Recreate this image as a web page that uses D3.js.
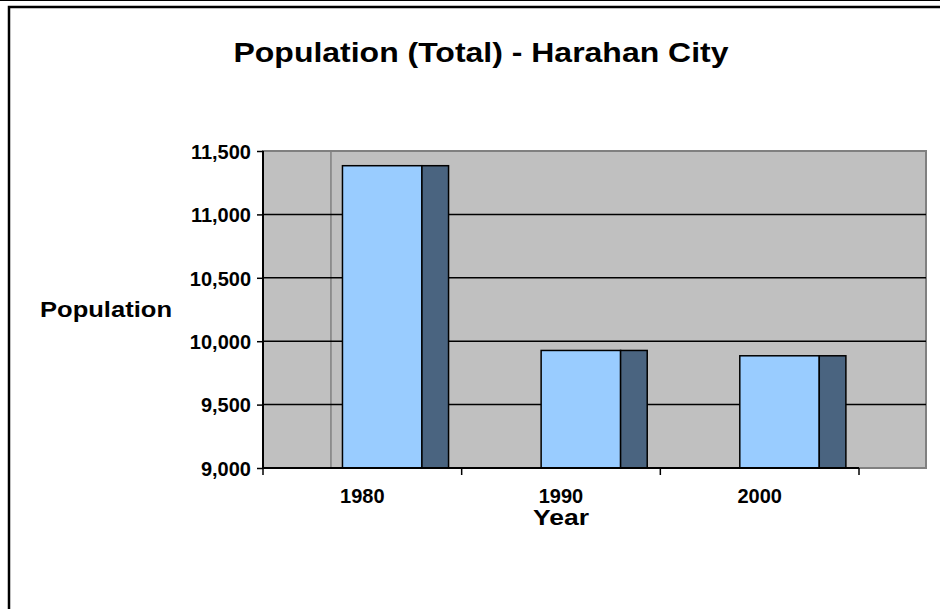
<!DOCTYPE html>
<html>
<head>
<meta charset="utf-8">
<script src="https://cdn.jsdelivr.net/npm/d3@7"></script>
<style>
  body { margin: 0; background: #fff; }
  text { font-family: "Liberation Sans", Arial, sans-serif; font-weight: bold; fill: #000; }
</style>
</head>
<body>
<script>
var years = ["1980", "1990", "2000"];
var population = [11384, 9927, 9885];
var yTicks = [9000, 9500, 10000, 10500, 11000, 11500];

var width = 940;
var height = 609;
var plotLeft = 263, plotRight = 926, plotTop = 151, plotBottom = 468;
var axisRight = 859;

var svg = d3.select("body")
  .append("svg")
  .attr("width", width)
  .attr("height", height);

// chart frame
svg.append("line")
  .attr("x1", 0).attr("x2", width)
  .attr("y1", 0.5).attr("y2", 0.5)
  .attr("stroke", "#000").attr("stroke-width", 1);
svg.append("rect")
  .attr("x", 9).attr("y", 7)
  .attr("width", 960).attr("height", 640)
  .attr("fill", "#fff")
  .attr("stroke", "#000").attr("stroke-width", 2.5);

var x = d3.scaleBand()
  .domain(years)
  .range([plotLeft, axisRight])
  .paddingInner(0)
  .paddingOuter(0);

var y = d3.scaleLinear()
  .domain([9000, 11500])
  .range([plotBottom, plotTop]);

var bw = x.bandwidth();

// plot area
svg.append("rect")
  .attr("x", plotLeft).attr("y", plotTop)
  .attr("width", plotRight - plotLeft)
  .attr("height", plotBottom - plotTop)
  .attr("fill", "#c0c0c0")
  .attr("stroke", "#808080").attr("stroke-width", 2);

// back wall edge line
svg.append("line")
  .attr("x1", plotLeft + bw * 0.342).attr("x2", plotLeft + bw * 0.342)
  .attr("y1", plotTop).attr("y2", plotBottom)
  .attr("stroke", "#808080").attr("stroke-width", 1.5);

// gridlines
svg.selectAll("line.grid")
  .data(yTicks.filter(function(d) { return d > 9000 && d < 11500; }))
  .enter()
  .append("line")
  .attr("class", "grid")
  .attr("x1", plotLeft).attr("x2", plotRight)
  .attr("y1", function(d) { return y(d); })
  .attr("y2", function(d) { return y(d); })
  .attr("stroke", "#000").attr("stroke-width", 1.5);

// bars: front face + dark side
var bars = svg.selectAll("g.bar")
  .data(years)
  .enter()
  .append("g")
  .attr("class", "bar");

bars.append("rect")
  .attr("x", function(d) { return x(d) + bw * 0.40; })
  .attr("y", function(d, i) { return y(population[i]); })
  .attr("width", bw * 0.40)
  .attr("height", function(d, i) { return y(9000) - y(population[i]); })
  .attr("fill", "#99ccff")
  .attr("stroke", "#000").attr("stroke-width", 1.5);

bars.append("rect")
  .attr("x", function(d) { return x(d) + bw * 0.80; })
  .attr("y", function(d, i) { return y(population[i]); })
  .attr("width", bw * 0.134)
  .attr("height", function(d, i) { return y(9000) - y(population[i]); })
  .attr("fill", "#4a6480")
  .attr("stroke", "#000").attr("stroke-width", 1.5);

// y axis
var yAxis = svg.append("g")
  .attr("transform", "translate(" + plotLeft + ",0)")
  .call(d3.axisLeft(y)
    .tickValues(yTicks)
    .tickSize(6)
    .tickPadding(6)
    .tickFormat(d3.format(",")));
yAxis.select(".domain").attr("stroke", "#000").attr("stroke-width", 2)
  .attr("d", "M0," + plotTop + "V" + plotBottom);
yAxis.selectAll(".tick line").attr("stroke", "#000").attr("stroke-width", 1.5);
yAxis.selectAll("text")
  .attr("font-size", "20px")
  .attr("font-family", "Liberation Sans, Arial, sans-serif")
  .attr("font-weight", "bold")
  .attr("fill", "#000")
  .attr("dy", "0.36em");

// x axis
var xTickPos = [plotLeft].concat(years.map(function(d) { return x(d) + bw; }));
var xAxis = svg.append("g")
  .attr("transform", "translate(0," + plotBottom + ")");
xAxis.append("line")
  .attr("x1", plotLeft).attr("x2", axisRight)
  .attr("y1", 0).attr("y2", 0)
  .attr("stroke", "#000").attr("stroke-width", 2);
xAxis.selectAll("line.xtick")
  .data(xTickPos)
  .enter()
  .append("line")
  .attr("class", "xtick")
  .attr("x1", function(d) { return d; }).attr("x2", function(d) { return d; })
  .attr("y1", 0).attr("y2", 7)
  .attr("stroke", "#000").attr("stroke-width", 1.5);
xAxis.selectAll("text")
  .data(years)
  .enter()
  .append("text")
  .attr("x", function(d) { return x(d) + bw / 2; })
  .attr("y", 35)
  .attr("text-anchor", "middle")
  .attr("font-size", "20px")
  .text(function(d) { return d; });

// titles
svg.append("text")
  .attr("x", 481).attr("y", 62)
  .attr("text-anchor", "middle")
  .attr("font-size", "28px")
  .attr("textLength", 495)
  .attr("lengthAdjust", "spacingAndGlyphs")
  .text("Population (Total) - Harahan City");

svg.append("text")
  .attr("x", 40).attr("y", 317)
  .attr("font-size", "22px")
  .attr("textLength", 132)
  .attr("lengthAdjust", "spacingAndGlyphs")
  .text("Population");

svg.append("text")
  .attr("x", 561).attr("y", 525)
  .attr("text-anchor", "middle")
  .attr("font-size", "22px")
  .attr("textLength", 56)
  .attr("lengthAdjust", "spacingAndGlyphs")
  .text("Year");
</script>
</body>
</html>
